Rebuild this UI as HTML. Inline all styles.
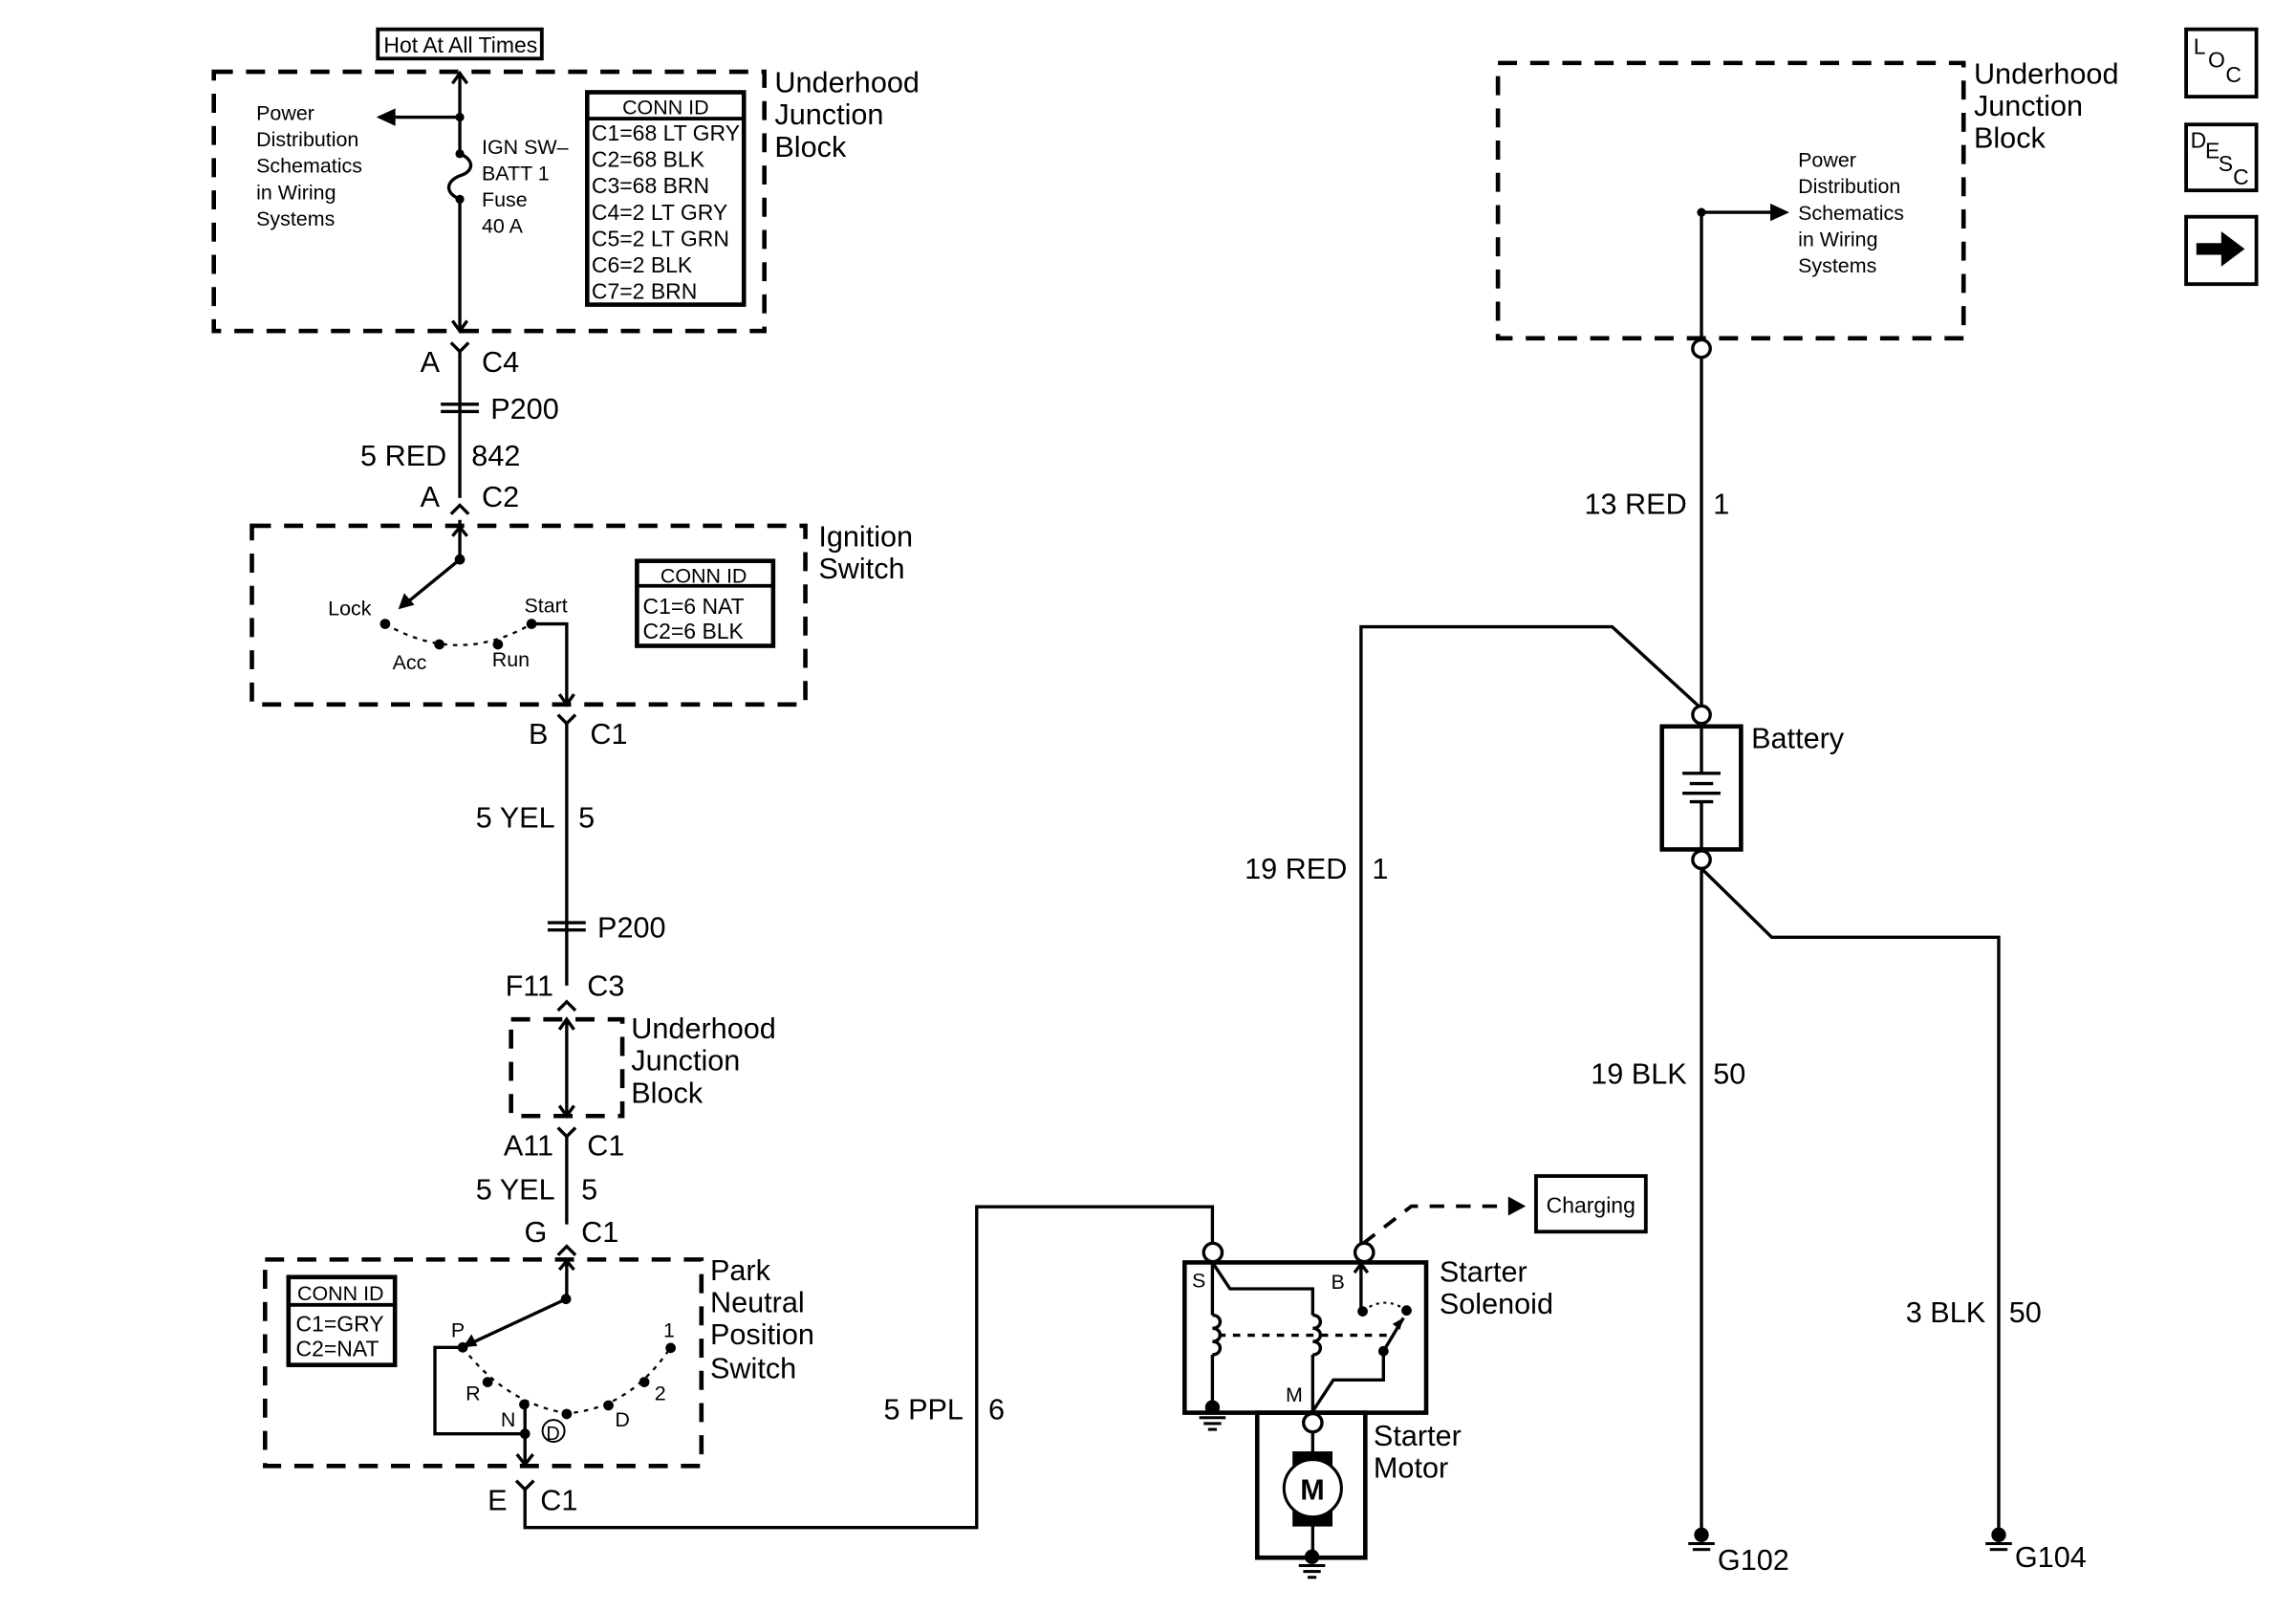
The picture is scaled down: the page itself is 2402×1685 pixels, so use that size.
<!DOCTYPE html>
<html><head><meta charset="utf-8"><style>
html,body{margin:0;padding:0;background:#fff;}
svg{display:block;}
text{font-family:"Liberation Sans",Arial,sans-serif;fill:#000;}
.l{font-size:20px;}
.s{font-size:14px;}
.m{font-size:15px;}
</style></head><body>
<svg width="2402" height="1685" viewBox="0 0 1568 1100" xmlns="http://www.w3.org/2000/svg">
<g fill="none" stroke="#000" stroke-width="2.2">
<rect x="146" y="49" width="376" height="177" stroke-width="3" stroke-dasharray="13,9"/>
<rect x="172" y="359" width="378" height="122" stroke-width="3" stroke-dasharray="13,9"/>
<rect x="349" y="696" width="76" height="66" stroke-width="3" stroke-dasharray="13,9"/>
<rect x="181" y="860" width="298" height="141" stroke-width="3" stroke-dasharray="13,9"/>
<rect x="1023" y="43" width="318" height="188" stroke-width="3" stroke-dasharray="13,9"/>
<rect x="258" y="20" width="112" height="20" stroke-width="2.5"/>
<line x1="314" y1="50" x2="314" y2="105"/>
<path d="M314 105 c10 4 10 12 0 15 c-10 4 -10 12 0 16"/>
<line x1="314" y1="136" x2="314" y2="226"/>
<path d="M309 57 L314 50 L319 57 M309 219 L314 226 L319 219"/>
<line x1="314" y1="80" x2="270" y2="80"/>
<rect x="401" y="63" width="107" height="145" stroke-width="3"/>
<line x1="401" y1="81" x2="508" y2="81" stroke-width="2.5"/>
<path d="M314 246 L314 240 M308 234 L314 240 L320 234"/>
<line x1="314" y1="246" x2="314" y2="340"/>
<line x1="301" y1="276" x2="327" y2="276"/><line x1="301" y1="281" x2="327" y2="281"/>
<path d="M308 351 L314 345 L320 351"/>
<line x1="314" y1="355" x2="314" y2="382"/>
<path d="M309 366 L314 360 L319 366"/>
<line x1="314" y1="382" x2="276" y2="413"/>
<path d="M263 426 Q313 455 363 426" stroke-dasharray="3,4" stroke-width="1.5"/>
<polyline points="363,426 387,426 387,481"/>
<path d="M382 474 L387 481 L392 474"/>
<rect x="435" y="383" width="93" height="58" stroke-width="3"/>
<line x1="435" y1="400" x2="528" y2="400" stroke-width="2.5"/>
<path d="M381 488 L387 494 L393 488"/>
<line x1="387" y1="494" x2="387" y2="673"/>
<line x1="374" y1="630" x2="400" y2="630"/><line x1="374" y1="635" x2="400" y2="635"/>
<path d="M381 690 L387 684 L393 690"/>
<line x1="387" y1="696" x2="387" y2="762"/>
<path d="M382 703 L387 696 L392 703 M382 755 L387 762 L392 755"/>
<path d="M381 770 L387 776 L393 770"/>
<line x1="387" y1="776" x2="387" y2="836"/>
<path d="M381 857 L387 851 L393 857"/>
<line x1="387" y1="860" x2="387" y2="887"/>
<path d="M382 867 L387 861 L392 867"/>
<line x1="386.5" y1="887" x2="322" y2="917"/>
<path d="M316 920 Q345 958 387 965 Q430 962 458 920" stroke-dasharray="3,4" stroke-width="1.5"/>
<polyline points="316,920 297,920 297,979 358.5,979"/>
<line x1="358.5" y1="959" x2="358.5" y2="1000"/>
<path d="M353 993 L358.5 1000 L364 993"/>
<circle cx="378" cy="977" r="7.5" stroke-width="1.3"/>
<rect x="197" y="872" width="72.7" height="60" stroke-width="3"/>
<line x1="197" y1="891" x2="270" y2="891" stroke-width="2.5"/>
<path d="M352.5 1011 L358.5 1017 L364.5 1011"/>
<polyline points="358.5,1017 358.5,1043 667,1043 667,824 828,824 828,849"/>
<rect x="809" y="862" width="165" height="102.6" stroke-width="3"/>
<circle cx="828.3" cy="855.2" r="6.3" fill="#fff"/>
<circle cx="931.7" cy="855.2" r="6.3" fill="#fff"/>
<line x1="828" y1="862" x2="828" y2="898"/>
<path d="M828 898 c7 0 7 9 0 9 c7 0 7 9 0 9 c7 0 7 9 0 9"/>
<line x1="828" y1="925" x2="828" y2="960"/>
<polyline points="828,862 840,880 896.5,880 896.5,898"/>
<path d="M896.5 898 c7 0 7 9 0 9 c7 0 7 9 0 9 c7 0 7 9 0 9"/>
<line x1="896.5" y1="925" x2="896.5" y2="965"/>
<line x1="832" y1="911.7" x2="951" y2="911.7" stroke-dasharray="5,5"/>
<line x1="929.5" y1="895" x2="929.5" y2="863"/>
<path d="M925 869 L929.5 863 L934 869"/>
<path d="M931 895 Q946 884 960.6 895" stroke-dasharray="2,3" stroke-width="1.4"/>
<line x1="944.8" y1="922.6" x2="958.5" y2="899.8"/>
<polyline points="944.8,922.6 944.8,942.2 910.6,942.2 896.9,963"/>
<rect x="858.6" y="964.6" width="73.8" height="99" stroke-width="3"/>
<circle cx="896.5" cy="971.5" r="6.3" fill="#fff"/>
<line x1="896.5" y1="978" x2="896.5" y2="991"/>
<line x1="896.5" y1="1042" x2="896.5" y2="1063"/>
<polyline points="929.5,849 929.5,428 1101,428 1160,482"/>
<path d="M931 849 L963.9 823.6 L1034 823.6" stroke-dasharray="10,8" stroke-width="2.5"/>
<rect x="1049" y="803" width="75" height="38" stroke-width="2.5"/>
<line x1="1162" y1="244" x2="1162" y2="482"/>
<polyline points="1162,232 1162,145 1210,145"/>
<circle cx="1162" cy="238" r="6" fill="#fff"/>
<circle cx="1162" cy="488" r="6" fill="#fff"/>
<rect x="1135" y="496" width="54" height="84" stroke-width="3"/>
<line x1="1162" y1="496" x2="1162" y2="528"/>
<line x1="1149" y1="528" x2="1175" y2="528"/>
<line x1="1154" y1="535" x2="1170" y2="535"/>
<line x1="1149" y1="541.6" x2="1175" y2="541.6"/>
<line x1="1154" y1="547.4" x2="1170" y2="547.4"/>
<line x1="1162" y1="547" x2="1162" y2="580"/>
<circle cx="1162" cy="587" r="6" fill="#fff"/>
<line x1="1162" y1="593" x2="1162" y2="1046"/>
<polyline points="1162,593 1210,640 1365,640 1365,1046"/>
<rect x="1493" y="20" width="48" height="46" stroke-width="2.5"/>
<rect x="1493" y="85" width="48" height="45" stroke-width="2.5"/>
<rect x="1493" y="148" width="48" height="46" stroke-width="2.5"/>
</g>
<g fill="#000" stroke="none">
<circle cx="314" cy="80" r="3"/><circle cx="314" cy="105" r="3"/><circle cx="314" cy="136" r="3"/>
<polygon points="257,80 270,74 270,86"/>
<circle cx="314" cy="382" r="3.5"/>
<polygon points="272,416 276,405 283,413"/>
<circle cx="263" cy="426" r="3.5"/><circle cx="300" cy="440" r="3.5"/><circle cx="340" cy="440" r="3.5"/><circle cx="363" cy="426" r="3.5"/>
<circle cx="386.5" cy="887" r="3.5"/>
<polygon points="316,920 322,911 326,919"/>
<circle cx="316" cy="920" r="3.5"/><circle cx="333" cy="943.7" r="3.5"/><circle cx="358" cy="959" r="3.5"/><circle cx="387" cy="965.5" r="3.5"/><circle cx="415.5" cy="959.6" r="3.5"/><circle cx="440" cy="943.7" r="3.5"/><circle cx="458" cy="920.4" r="3.5"/><circle cx="358.5" cy="979" r="3.5"/>
<circle cx="828" cy="961" r="5"/>
<rect x="819" y="967" width="18" height="2"/><rect x="822" y="971" width="12" height="2"/><rect x="825" y="975" width="6" height="2"/>
<circle cx="930.6" cy="895.4" r="3.5"/><circle cx="960.6" cy="894.8" r="3.5"/><circle cx="944.8" cy="922.6" r="3.5"/>
<polygon points="958.5,899.8 951,904 956,908"/>
<rect x="882.7" y="991" width="27.3" height="51.3"/>
<circle cx="896.5" cy="1016.2" r="19.6" fill="#fff" stroke="#000" stroke-width="2"/>
<circle cx="896" cy="1063" r="5"/>
<rect x="887" y="1068" width="18" height="2"/><rect x="890" y="1072" width="12" height="2"/><rect x="893" y="1076" width="6" height="2"/>
<polygon points="1042,823.6 1030,817 1030,830"/>
<circle cx="1162" cy="145" r="3"/>
<polygon points="1222,145 1209,139 1209,151"/>
<circle cx="1162" cy="1048" r="5"/>
<rect x="1153" y="1053" width="18" height="2"/><rect x="1156" y="1057" width="12" height="2"/>
<circle cx="1365" cy="1048" r="5"/>
<rect x="1356" y="1053" width="18" height="2"/><rect x="1359" y="1057" width="12" height="2"/>
<rect x="1500" y="166" width="20" height="8"/><polygon points="1517,158 1533,170 1517,182"/>
</g>
<text x="262" y="36" class="m">Hot At All Times</text>
<g class="s"><text x="175" y="82">Power</text><text x="175" y="100">Distribution</text><text x="175" y="118">Schematics</text><text x="175" y="136">in Wiring</text><text x="175" y="154">Systems</text></g>
<g class="s"><text x="329" y="105">IGN SW–</text><text x="329" y="123">BATT 1</text><text x="329" y="141">Fuse</text><text x="329" y="159">40 A</text></g>
<text x="425" y="78" class="s">CONN ID</text>
<g class="m"><text x="404" y="96">C1=68 LT GRY</text><text x="404" y="114">C2=68 BLK</text><text x="404" y="132">C3=68 BRN</text><text x="404" y="150">C4=2 LT GRY</text><text x="404" y="168">C5=2 LT GRN</text><text x="404" y="186">C6=2 BLK</text><text x="404" y="204">C7=2 BRN</text></g>
<g class="l"><text x="529" y="63">Underhood</text><text x="529" y="85">Junction</text><text x="529" y="107">Block</text></g>
<g class="l">
<text x="287" y="254">A</text><text x="329" y="254">C4</text>
<text x="335" y="286">P200</text>
<text x="305" y="318" text-anchor="end">5 RED</text><text x="322" y="318">842</text>
<text x="287" y="346">A</text><text x="329" y="346">C2</text>
<text x="559" y="373">Ignition</text><text x="559" y="395">Switch</text>
<text x="361" y="508">B</text><text x="403" y="508">C1</text>
<text x="379" y="565" text-anchor="end">5 YEL</text><text x="395" y="565">5</text>
<text x="408" y="640">P200</text>
<text x="378" y="680" text-anchor="end">F11</text><text x="401" y="680">C3</text>
<text x="431" y="709">Underhood</text><text x="431" y="731">Junction</text><text x="431" y="753">Block</text>
<text x="378" y="789" text-anchor="end">A11</text><text x="401" y="789">C1</text>
<text x="379" y="819" text-anchor="end">5 YEL</text><text x="397" y="819">5</text>
<text x="358" y="848">G</text><text x="397" y="848">C1</text>
<text x="485" y="874">Park</text><text x="485" y="896">Neutral</text><text x="485" y="918">Position</text><text x="485" y="941">Switch</text>
<text x="333" y="1031">E</text><text x="369" y="1031">C1</text>
<text x="658" y="969" text-anchor="end">5 PPL</text><text x="675" y="969">6</text>
<text x="920" y="600" text-anchor="end">19 RED</text><text x="937" y="600">1</text>
<text x="983" y="875">Starter</text><text x="983" y="897">Solenoid</text>
<text x="938" y="987">Starter</text><text x="938" y="1009">Motor</text>
<text x="1348" y="57">Underhood</text><text x="1348" y="79">Junction</text><text x="1348" y="101">Block</text>
<text x="1152" y="351" text-anchor="end">13 RED</text><text x="1170" y="351">1</text>
<text x="1196" y="511">Battery</text>
<text x="1152" y="740" text-anchor="end">19 BLK</text><text x="1170" y="740">50</text>
<text x="1356" y="903" text-anchor="end">3 BLK</text><text x="1372" y="903">50</text>
<text x="1173" y="1072">G102</text><text x="1376" y="1070">G104</text>
</g>
<g class="s"><text x="224" y="420">Lock</text><text x="358" y="418">Start</text><text x="268" y="457">Acc</text><text x="336" y="455">Run</text></g>
<text x="451" y="398" class="s">CONN ID</text>
<g class="m"><text x="439" y="419">C1=6 NAT</text><text x="439" y="436">C2=6 BLK</text></g>
<text x="203" y="888" class="s">CONN ID</text>
<g class="m"><text x="202" y="909">C1=GRY</text><text x="202" y="926">C2=NAT</text></g>
<g class="s"><text x="308" y="913">P</text><text x="318" y="956">R</text><text x="342" y="974">N</text><text x="373" y="983" font-size="13">D</text><text x="420" y="974">D</text><text x="447" y="956">2</text><text x="453" y="913">1</text>
<text x="814" y="879">S</text><text x="909" y="880">B</text><text x="878" y="957">M</text></g>
<text x="888" y="1024" class="l" font-weight="bold">M</text>
<text x="1056" y="828" class="m">Charging</text>
<g class="s"><text x="1228" y="114">Power</text><text x="1228" y="132">Distribution</text><text x="1228" y="150">Schematics</text><text x="1228" y="168">in Wiring</text><text x="1228" y="186">Systems</text></g>
<g class="m"><text x="1498" y="37">L</text><text x="1508" y="46">O</text><text x="1520" y="56">C</text>
<text x="1496" y="101">D</text><text x="1506" y="108">E</text><text x="1515" y="117">S</text><text x="1525" y="126">C</text></g>
</svg>
</body></html>
